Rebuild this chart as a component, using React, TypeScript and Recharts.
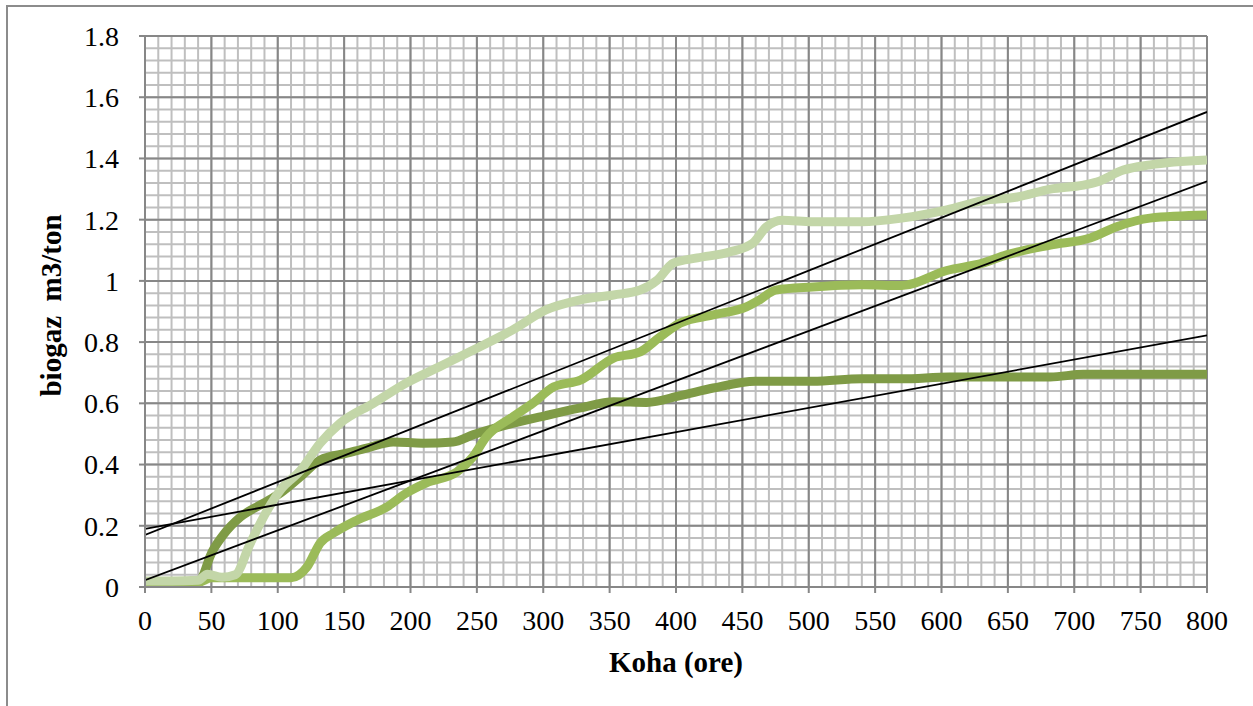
import React from 'react';
import { LineChart, Line, XAxis, YAxis, CartesianGrid, Label } from 'recharts';

// hours (Koha) and biogas yield (m3/ton)
const lightT = [0, 20, 40, 47, 58, 68, 79, 92, 102, 117, 132, 147, 172, 197, 222, 250, 277, 302, 328, 353, 373, 386, 398, 416, 441, 458, 468, 480, 503, 540, 570, 604, 631, 657, 682, 707, 717, 737, 757, 800];
const lightV = [0.02, 0.02, 0.022, 0.042, 0.032, 0.04, 0.14, 0.25, 0.317, 0.38, 0.47, 0.535, 0.6, 0.667, 0.72, 0.78, 0.84, 0.905, 0.938, 0.954, 0.97, 1.003, 1.058, 1.075, 1.095, 1.124, 1.176, 1.198, 1.193, 1.193, 1.205, 1.232, 1.262, 1.274, 1.3, 1.313, 1.323, 1.362, 1.379, 1.395];

const midT = [0, 20, 40, 50, 70, 90, 110, 122, 132, 142, 160, 182, 197, 212, 235, 247, 257, 277, 292, 308, 328, 353, 373, 388, 403, 428, 453, 463, 475, 503, 540, 570, 604, 631, 649, 682, 712, 732, 757, 800];
const midV = [0.01, 0.012, 0.015, 0.03, 0.03, 0.03, 0.03, 0.065, 0.144, 0.176, 0.219, 0.261, 0.307, 0.34, 0.376, 0.425, 0.49, 0.556, 0.6, 0.654, 0.676, 0.748, 0.768, 0.817, 0.862, 0.889, 0.915, 0.938, 0.97, 0.98, 0.987, 0.985, 1.034, 1.058, 1.085, 1.117, 1.14, 1.177, 1.205, 1.215];

const darkT = [0, 20, 40, 44, 49, 59, 72, 89, 102, 117, 132, 152, 167, 187, 209, 232, 247, 267, 302, 328, 353, 378, 403, 428, 460, 503, 540, 570, 606, 682, 707, 800];
const darkV = [0.01, 0.01, 0.012, 0.04, 0.1, 0.17, 0.229, 0.273, 0.307, 0.36, 0.415, 0.437, 0.454, 0.474, 0.47, 0.474, 0.497, 0.523, 0.56, 0.585, 0.605, 0.603, 0.625, 0.65, 0.672, 0.672, 0.68, 0.68, 0.686, 0.686, 0.695, 0.695];

// linear trend lines (endpoints)
const trendT = [0, 800];
const trendLightV = [0.17, 1.552];
const trendMidV = [0.022, 1.325];
const trendDarkV = [0.19, 0.822];

const xTicks = [0, 50, 100, 150, 200, 250, 300, 350, 400, 450, 500, 550, 600, 650, 700, 750, 800];
const yTicks = [0, 0.2, 0.4, 0.6, 0.8, 1, 1.2, 1.4, 1.6, 1.8];

const X_MAX = 800;
const Y_MAX = 1.8;
const minorX = Array.from({ length: 81 }, (_, i) => i * 10);
const minorY = Array.from({ length: 46 }, (_, i) => +(i * 0.04).toFixed(2));

const zip = (t: number[], v: number[]) => t.map((x, i) => ({ t: x, v: v[i] }));

const lightData = zip(lightT, lightV);
const midData = zip(midT, midV);
const darkData = zip(darkT, darkV);
const trendLight = zip(trendT, trendLightV);
const trendMid = zip(trendT, trendMidV);
const trendDark = zip(trendT, trendDarkV);

const FONT = '"Liberation Serif", "Times New Roman", serif';
const MAJOR = '#878787';
const MINOR = '#bfbfbf';

const fmtY = (v: number) => String(Number(v.toFixed(1)));

export default function App() {
  const minorVertical = ({ xAxis, offset }: any) =>
    minorX.map(v =>
      xAxis && typeof xAxis.scale === 'function'
        ? xAxis.scale(v)
        : offset.left + (v / X_MAX) * offset.width
    );
  const minorHorizontal = ({ yAxis, offset }: any) =>
    minorY.map(v =>
      yAxis && typeof yAxis.scale === 'function'
        ? yAxis.scale(v)
        : offset.top + offset.height - (v / Y_MAX) * offset.height
    );

  return (
    <div style={{ position: 'absolute', left: 0, top: 0, width: 1253, height: 706, overflow: 'hidden', background: '#fff' }}>
      <div style={{ position: 'absolute', left: 6, top: 5, width: 1400, height: 900, border: '2px solid #8c8c8c', boxSizing: 'border-box' }} />
      <div style={{ position: 'absolute', left: 0, top: 0 }}>
        <LineChart width={1253} height={706} margin={{ top: 36, right: 46, bottom: 59, left: 65 }}>
          <CartesianGrid
            stroke={MINOR}
            strokeWidth={2}
            verticalCoordinatesGenerator={minorVertical}
            horizontalCoordinatesGenerator={minorHorizontal}
          />
          <CartesianGrid stroke={MAJOR} strokeWidth={2} />
          <XAxis
            type="number"
            dataKey="t"
            domain={[0, X_MAX]}
            ticks={xTicks}
            interval={0}
            allowDataOverflow
            height={60}
            stroke={MAJOR}
            strokeWidth={2}
            tickSize={6}
            tickMargin={17}
            tick={{ fontSize: 28, fill: '#000', fontFamily: FONT }}
          >
            <Label
              content={({ viewBox }: any) => (
                <text
                  x={viewBox.x + viewBox.width / 2}
                  y={viewBox.y + 85}
                  textAnchor="middle"
                  fontFamily={FONT}
                  fontSize={29}
                  fontWeight="bold"
                  fill="#000"
                >
                  Koha (ore)
                </text>
              )}
            />
          </XAxis>
          <YAxis
            type="number"
            domain={[0, Y_MAX]}
            ticks={yTicks}
            interval={0}
            allowDataOverflow
            width={80}
            stroke={MAJOR}
            strokeWidth={2}
            tickSize={6}
            tickMargin={20}
            tickFormatter={fmtY}
            tick={{ fontSize: 28, fill: '#000', fontFamily: FONT }}
          >
            <Label
              content={({ viewBox }: any) => {
                const x = viewBox.x - 4;
                const y = viewBox.y + viewBox.height / 2 - 6;
                return (
                  <text
                    x={x}
                    y={y}
                    transform={`rotate(-90, ${x}, ${y})`}
                    textAnchor="middle"
                    fontFamily={FONT}
                    fontSize={29}
                    fontWeight="bold"
                    fill="#000"
                    style={{ whiteSpace: 'pre' }}
                  >
                    {'biogaz  m3/ton'}
                  </text>
                );
              }}
            />
          </YAxis>
          <Line data={darkData} dataKey="v" type="monotone" stroke="#7f9b46" strokeWidth={9} dot={false} activeDot={false} isAnimationActive={false} />
          <Line data={midData} dataKey="v" type="monotone" stroke="#9bbb59" strokeWidth={9} dot={false} activeDot={false} isAnimationActive={false} />
          <Line data={lightData} dataKey="v" type="monotone" stroke="#c3d6a8" strokeWidth={9} dot={false} activeDot={false} isAnimationActive={false} />
          <Line data={trendLight} dataKey="v" type="linear" stroke="#000" strokeWidth={1.8} dot={false} activeDot={false} isAnimationActive={false} />
          <Line data={trendMid} dataKey="v" type="linear" stroke="#000" strokeWidth={1.8} dot={false} activeDot={false} isAnimationActive={false} />
          <Line data={trendDark} dataKey="v" type="linear" stroke="#000" strokeWidth={1.8} dot={false} activeDot={false} isAnimationActive={false} />
        </LineChart>
      </div>
    </div>
  );
}
